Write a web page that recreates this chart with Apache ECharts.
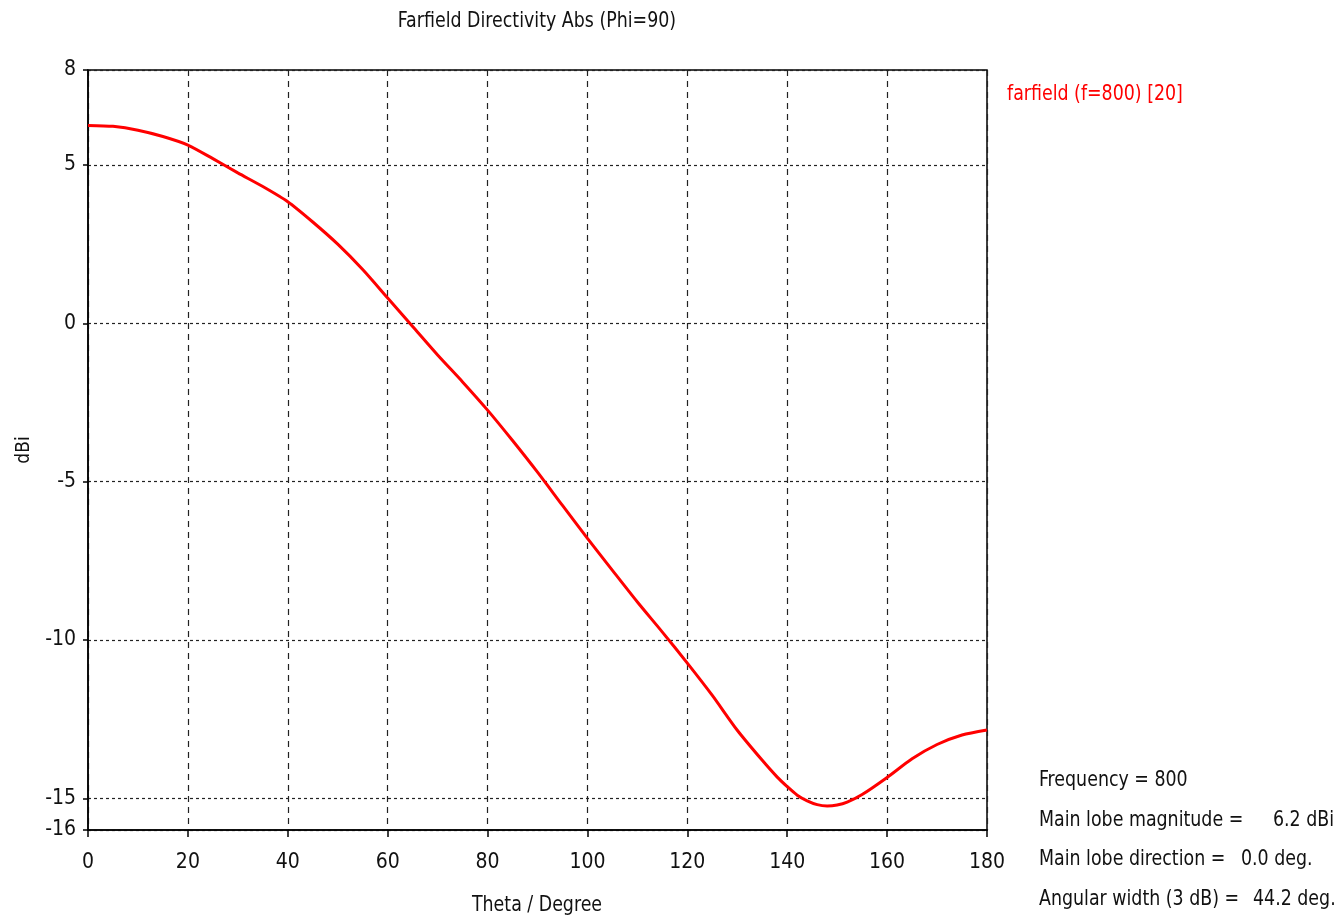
<!DOCTYPE html>
<html>
<head>
<meta charset="utf-8">
<title>Farfield Directivity Abs (Phi=90)</title>
<script src="https://cdn.jsdelivr.net/npm/echarts@6/dist/echarts.min.js"></script>
<style>
html, body { margin: 0; padding: 0; background: #fff; }
#main { width: 1339px; height: 920px; }
</style>
</head>
<body>
<div id="main"></div>
<script>
// theta (deg) and directivity (dBi)
var theta = [0, 5, 10, 15, 20, 25, 30, 35, 40, 45, 50, 55, 60, 65, 70, 75, 80, 85, 90,
             95, 100, 105, 110, 115, 120, 125, 130, 135, 138, 140, 142, 144, 146, 148,
             150, 152, 155, 160, 165, 170, 175, 180];
var dbi = [6.25, 6.22, 6.1, 5.9, 5.63, 5.2, 4.75, 4.32, 3.84, 3.2, 2.5, 1.7, 0.8, -0.1,
           -1.0, -1.85, -2.74, -3.7, -4.7, -5.75, -6.79, -7.8, -8.8, -9.75, -10.73,
           -11.75, -12.85, -13.8, -14.33, -14.63, -14.9, -15.08, -15.2, -15.24,
           -15.21, -15.12, -14.88, -14.34, -13.75, -13.3, -13.0, -12.84];
var yTicks = [8, 5, 0, -5, -10, -15, -16];
var xTicks = [0, 20, 40, 60, 80, 100, 120, 140, 160, 180];
var seriesName = 'farfield (f=800) [20]';
var infoLabels = ['Frequency = 800', 'Main lobe magnitude =', 'Main lobe direction =', 'Angular width (3 dB) ='];
var infoValues = ['', '6.2 dBi', '0.0 deg.', '44.2 deg.'];

var FONT = '"DejaVu Sans Condensed", "Liberation Sans", sans-serif';
var SX = 0.88; // squeeze the text a little, the original font is narrower

var myChart = echarts.init(document.getElementById('main'));

var pts = theta.map(function (t, i) { return [t, dbi[i]]; });

var graphics = [];
var infoY = [780, 820, 859, 899];
var valueX = [0, 1273, 1241, 1253];
infoLabels.forEach(function (s, i) {
    graphics.push({
        type: 'text', x: 1039, y: infoY[i], scaleX: SX,
        style: { text: s, font: '22px ' + FONT, fill: '#111', verticalAlign: 'middle' }
    });
    if (infoValues[i]) {
        graphics.push({
            type: 'text', x: valueX[i], y: infoY[i], scaleX: SX,
            style: { text: infoValues[i], font: '22px ' + FONT, fill: '#111', verticalAlign: 'middle' }
        });
    }
});
graphics.push({
    type: 'text', x: 1007, y: 94, scaleX: SX,
    style: { text: seriesName, font: '22px ' + FONT, fill: '#ff0000', verticalAlign: 'middle' }
});
graphics.push({
    type: 'text', x: 537, y: 21, scaleX: SX,
    style: { text: 'Farfield Directivity Abs (Phi=90)', font: '22px ' + FONT, fill: '#111',
             align: 'center', verticalAlign: 'middle' }
});
graphics.push({
    type: 'text', x: 537, y: 905, scaleX: SX,
    style: { text: 'Theta / Degree', font: '22px ' + FONT, fill: '#111',
             align: 'center', verticalAlign: 'middle' }
});

var option = {
    animation: false,
    backgroundColor: '#fff',
    grid: {
        left: 88, right: 352, top: 70, bottom: 90,
        show: true, borderColor: '#000', borderWidth: 1.5, backgroundColor: 'transparent'
    },
    xAxis: {
        type: 'value', min: 0, max: 180, interval: 20,
        axisLine: { onZero: false, lineStyle: { color: '#000', width: 1.5 } },
        axisTick: { show: true, length: 7, lineStyle: { color: '#000', width: 1.5 }, customValues: xTicks },
        axisLabel: { fontFamily: FONT, fontSize: 21, color: '#111', margin: 22, customValues: xTicks },
        splitLine: { show: true, lineStyle: { color: '#222', type: [6, 5], width: 1.2 } }
    },
    yAxis: {
        type: 'value', min: -16, max: 8,
        name: 'dBi', nameLocation: 'middle', nameGap: 54, nameRotate: 90,
        nameTextStyle: { fontFamily: FONT, fontSize: 19, color: '#111' },
        axisLine: { show: true, onZero: false, lineStyle: { color: '#000', width: 1.5 } },
        axisTick: { show: true, length: 5, lineStyle: { color: '#000', width: 1.5 }, customValues: yTicks },
        axisLabel: { fontFamily: FONT, fontSize: 21, color: '#111', margin: 12, customValues: yTicks },
        splitLine: { show: true, lineStyle: { color: '#222', type: [3, 3], width: 1.2 } }
    },
    graphic: graphics,
    series: [{
        name: seriesName,
        type: 'line',
        data: pts,
        smooth: 0.25,
        showSymbol: false,
        lineStyle: { color: '#ff0000', width: 3 },
        z: 5
    }]
};

myChart.setOption(option);
</script>
</body>
</html>
